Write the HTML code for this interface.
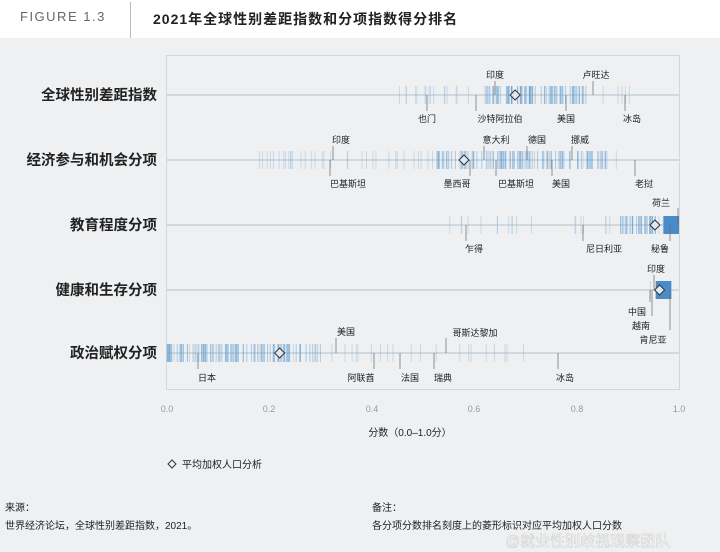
<!DOCTYPE html>
<html><head><meta charset="utf-8"><style>
body{margin:0;width:720px;height:552px;background:#eef0f2;font-family:"Liberation Sans","Noto Sans CJK SC",sans-serif;position:relative;overflow:hidden}
.hdr{position:absolute;left:0;top:0;width:720px;height:38px;background:#fff}
.t{position:absolute;white-space:nowrap}
</style></head><body>
<div class="hdr"></div>
<div class="t" style="left:20px;top:9px;font-size:13px;color:#666;letter-spacing:1.5px">FIGURE 1.3</div>
<div style="position:absolute;left:130px;top:2px;width:1px;height:36px;background:#bbb"></div>
<div class="t" style="left:153px;top:9px;font-size:14px;font-weight:bold;color:#222;letter-spacing:1px">2021年全球性别差距指数和分项指数得分排名</div>
<svg id="s" width="720" height="552" style="position:absolute;left:0;top:0" font-family="Liberation Sans, Noto Sans CJK SC, sans-serif">
<rect x="166.5" y="55.5" width="513" height="334" fill="none" stroke="#d4d7da"/>
<g id="ticks"></g>
<g font-size="14.5" font-weight="bold" fill="#222" text-anchor="end">
<text x="157" y="100">全球性别差距指数</text>
<text x="157" y="165">经济参与和机会分项</text>
<text x="157" y="230">教育程度分项</text>
<text x="157" y="295">健康和生存分项</text>
<text x="157" y="358">政治赋权分项</text>
</g>
<g font-size="9" fill="#222" text-anchor="middle" id="lbl">
<text x="495" y="78">印度</text><text x="596" y="78">卢旺达</text>
<text x="427" y="122">也门</text><text x="500" y="122">沙特阿拉伯</text><text x="566" y="122">美国</text><text x="632" y="122">冰岛</text>
<text x="341" y="143">印度</text><text x="496" y="143">意大利</text><text x="537" y="143">德国</text><text x="580" y="143">挪威</text>
<text x="348" y="187">巴基斯坦</text><text x="457" y="187">墨西哥</text><text x="516" y="187">巴基斯坦</text><text x="561" y="187">美国</text><text x="644" y="187">老挝</text>
<text x="661" y="206">荷兰</text>
<text x="474" y="252">乍得</text><text x="604" y="252">尼日利亚</text><text x="660" y="252">秘鲁</text>
<text x="656" y="272">印度</text><text x="637" y="315">中国</text><text x="641" y="329">越南</text><text x="653" y="343">肯尼亚</text>
<text x="346" y="335">美国</text><text x="475" y="336">哥斯达黎加</text>
<text x="207" y="381">日本</text><text x="361" y="381">阿联酋</text><text x="410" y="381">法国</text><text x="443" y="381">瑞典</text><text x="565" y="381">冰岛</text>
</g>
<g font-size="9" fill="#999" text-anchor="middle">
<text x="167" y="412">0.0</text><text x="269" y="412">0.2</text><text x="372" y="412">0.4</text><text x="474" y="412">0.6</text><text x="577" y="412">0.8</text><text x="679" y="412">1.0</text>
</g>
<text x="410" y="436" font-size="10" fill="#222" text-anchor="middle">分数（0.0–1.0分）</text>
<path d="M172,460 l4,4 -4,4 -4,-4z" fill="none" stroke="#333"/>
<text x="182" y="468" font-size="10" fill="#222">平均加权人口分析</text>
<g font-size="10" fill="#222">
<text x="5" y="511">来源：</text><text x="5" y="529">世界经济论坛，全球性别差距指数，2021。</text>
<text x="372" y="511">备注：</text><text x="372" y="529">各分项分数排名刻度上的菱形标识对应平均加权人口分数</text>
</g>
<text x="505" y="546" font-size="15" fill="#fff" stroke="#ccc" stroke-width="0.5">@就业性别歧视观察团队</text>
</svg>
<script>
var g=document.getElementById('ticks'),ns='http://www.w3.org/2000/svg',seed=7;
function r(){seed=(seed*9301+49297)%233280;return seed/233280}
function X(v){return 167+v*512}
function el(n,a){var e=document.createElementNS(ns,n);for(var k in a)e.setAttribute(k,a[k]);g.appendChild(e);return e}
var rows=[[95,0.43,0.91,0.62,0.82,40,70,0.68],[160,0.18,0.93,0.52,0.86,55,90,0.58],[225,0.51,1.0,0.88,1.0,25,40,0.953],[290,0.94,0.985,0.955,0.985,4,12,0.962],[353,0.0,0.7,0.0,0.3,45,90,0.22]];
rows.forEach(function(R){
 el('line',{x1:167,x2:679,y1:R[0],y2:R[0],stroke:'#b8bfc6','stroke-width':1});
 for(var i=0;i<R[5];i++){var v=R[1]+r()*(R[2]-R[1]);el('line',{x1:X(v),x2:X(v),y1:R[0]-9,y2:R[0]+9,stroke:'#8fb6d8','stroke-width':1,opacity:0.4});}
 for(var i=0;i<R[6];i++){var v=R[3]+r()*(R[4]-R[3]);el('line',{x1:X(v),x2:X(v),y1:R[0]-9,y2:R[0]+9,stroke:'#5f9cd0','stroke-width':1,opacity:0.45});}
});
el('rect',{x:X(0.97),y:216,width:X(1)-X(0.97),height:18,fill:'#4a8cc8'});
el('rect',{x:X(0.955),y:281,width:X(0.985)-X(0.955),height:18,fill:'#4a8cc8'});
[[495,81,95],[593,81,95],[427,95,111],[476,95,111],[566,95,111],[625,95,111],[333,146,160],[484,146,160],[527,146,160],[572,146,160],[330,160,176],[470,160,176],[496,160,176],[552,160,176],[635,160,176],[678,208,225],[466,225,241],[583,225,241],[670,225,241],[654,275,290],[650,290,302],[652,290,316],[670,290,330],[336,338,353],[446,338,353],[198,353,369],[374,353,369],[400,353,369],[434,353,369],[558,353,369]].forEach(function(l){el('line',{x1:l[0],x2:l[0],y1:l[1],y2:l[2],stroke:'#666','stroke-width':0.7})});
rows.forEach(function(R){var x=X(R[7]),y=R[0];el('path',{d:'M'+x+','+(y-5)+' l5,5 -5,5 -5,-5z',fill:'#dfe8f2',stroke:'#333','stroke-width':1})});
</script>
</body></html>
